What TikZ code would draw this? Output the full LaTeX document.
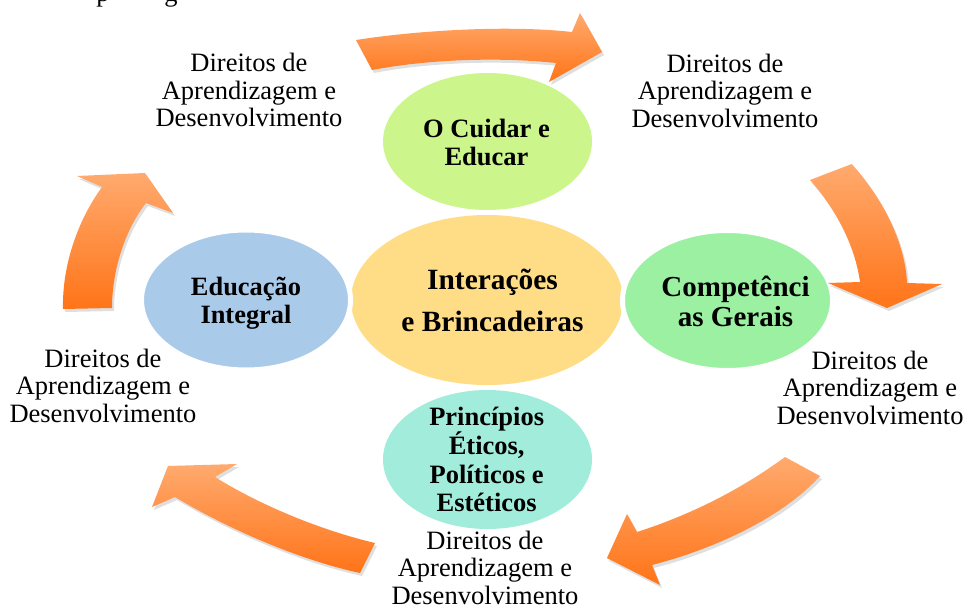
\documentclass[tikz,border=0pt]{standalone}
\usepackage{fontspec}
\setmainfont{Liberation Serif}
\usetikzlibrary{shapes.geometric,shadows}
\definecolor{cTop}{RGB}{204,246,140}
\definecolor{cMid}{RGB}{255,220,134}
\definecolor{cBlue}{RGB}{170,202,234}
\definecolor{cGreen}{RGB}{156,240,162}
\definecolor{cCyan}{RGB}{162,236,220}
\definecolor{arLight}{RGB}{255,170,110}
\definecolor{arDark}{RGB}{255,116,24}
\begin{document}
\begin{tikzpicture}[x=1pt,y=-1pt,
  bubble/.style={ellipse, inner sep=0pt},
  ring/.style={draw=white, line width=5pt},
  bold/.style={font=\fontsize{26.5}{28.3}\selectfont\bfseries, align=center, inner sep=0pt},
  rights/.style={font=\fontsize{26.5}{27.5}\selectfont, align=center, inner sep=0pt},
  frag/.style={font=\fontsize{26.5}{27.5}\selectfont, inner sep=0pt, anchor=base},
  bigarrow/.style={top color=arLight, bottom color=arDark,
    drop shadow={shadow xshift=2pt, shadow yshift=-3pt, opacity=0.25}}]
\useasboundingbox (0,0) rectangle (966,610);

% ellipses
\node[bubble, fill=cMid, minimum width=272pt, minimum height=170pt] (mid) at (487,300) {};
\node[bubble, fill=cTop, minimum width=209pt, minimum height=137pt] (top) at (487.5,141.5) {};
\node[bubble, fill=cCyan, minimum width=209pt, minimum height=139pt] (bot) at (487.5,459.5) {};
\node[bubble, fill=cBlue, ring, minimum width=209pt, minimum height=140pt] (left) at (246,300) {};
\node[bubble, fill=cGreen, ring, minimum width=210pt, minimum height=140pt] (right) at (727.5,300.5) {};

% ellipse texts
\node[bold] (tTop) at (486.5,142.3) {O Cuidar e\\Educar};
\node[bold, font=\fontsize{29.4}{42.4}\selectfont\bfseries] (tMid) at (492.5,300.5) {Interações\\e Brincadeiras};
\node[bold, font=\fontsize{26.4}{27.6}\selectfont\bfseries] (tLeft) at (246,303.3) {Educação\\Integral};
\node[bold, font=\fontsize{29}{30}\selectfont\bfseries] (tRight) at (735.5,301) {Competênci\\as Gerais};
\node[bold] (tBot) at (486.7,459.3) {Princípios\\Éticos,\\Políticos e\\Estéticos};

% rights labels
\node[rights] (r1) at (249,90) {Direitos de\\Aprendizagem e\\Desenvolvimento};
\node[rights] (r2) at (725,90.5) {Direitos de\\Aprendizagem e\\Desenvolvimento};
\node[rights] (r3) at (870,387.9) {Direitos de\\Aprendizagem e\\Desenvolvimento};
\node[rights] (r4) at (485,567.5) {Direitos de\\Aprendizagem e\\Desenvolvimento};
\node[rights] (r5) at (103,385.8) {Direitos de\\Aprendizagem e\\Desenvolvimento};

% cut-off text at top edge (only descenders visible)
\node[frag] (frag1) at (103,1.5) {p};
\node[frag] (frag2) at (171,1.5) {g};

% curved arrows
\path[bigarrow] (356,40) .. controls (420,30) and (510,25) .. (572,32) -- (580,13) -- (602,52) -- (549,82) -- (556,63)
  .. controls (500,57) and (430,59) .. (372,70) -- cycle;
\path[bigarrow] (851.7,164) .. controls (880,195) and (905,240) .. (907,283) -- (942,284) -- (887,308) -- (828,283) -- (860,282)
  .. controls (855,245) and (835,208) .. (810,180) -- cycle;
\path[bigarrow] (785,457) .. controls (740,490) and (690,515) .. (637,532) -- (627,514) -- (607,558) -- (660,585) -- (652,565)
  .. controls (710,550) and (780,520) .. (820,476) -- cycle;
\path[bigarrow] (375,543) .. controls (320,530) and (260,505) .. (215,477) -- (237,464) -- (168,466) -- (152,507) -- (175,497)
  .. controls (230,530) and (300,560) .. (360,573) -- cycle;
\path[bigarrow] (63,309) .. controls (62,265) and (78,220) .. (102,187) -- (77,176) -- (145,173) -- (173,213) -- (146,203)
  .. controls (125,230) and (112,270) .. (112,308) -- cycle;
\end{tikzpicture}
\end{document}
